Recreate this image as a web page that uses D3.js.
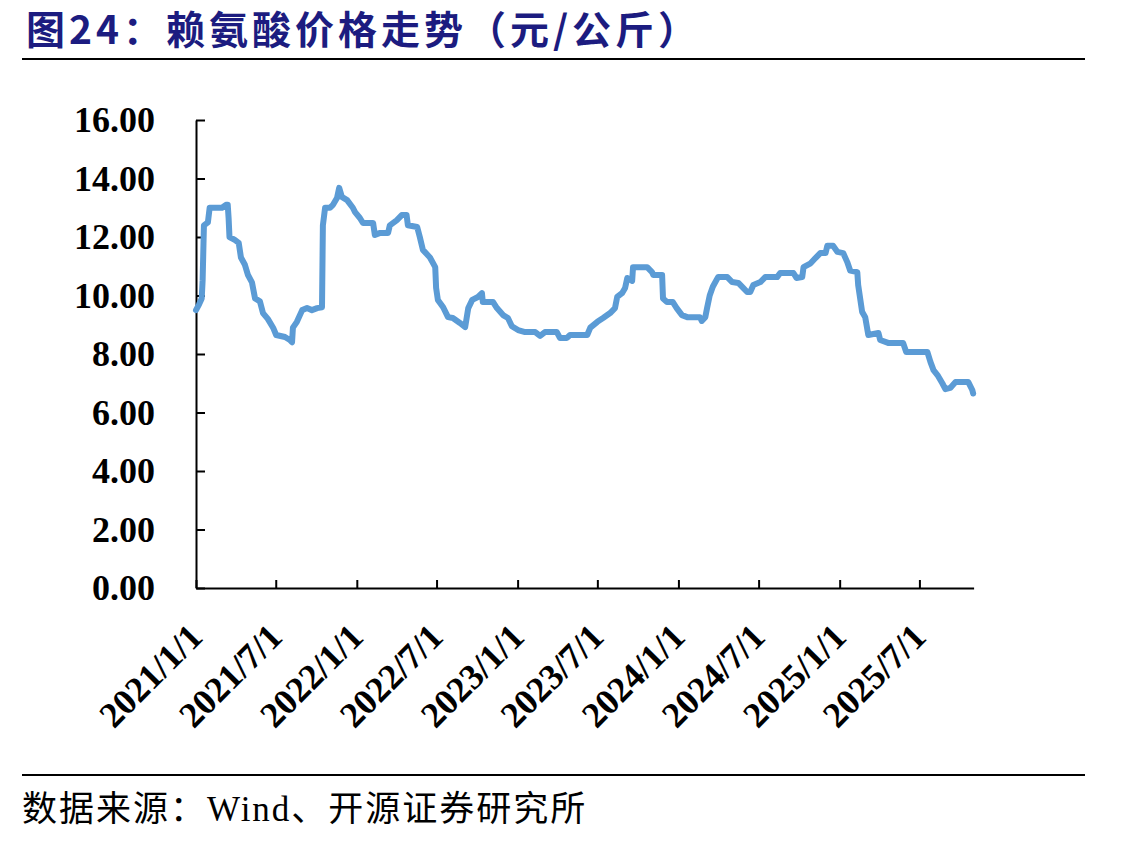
<!DOCTYPE html>
<html>
<head>
<meta charset="utf-8">
<script src="https://cdn.jsdelivr.net/npm/d3@7"></script>
<style>
  body { margin: 0; background: #fff; }
</style>
</head>
<body>
<div id="chart"></div>
<script>
// 赖氨酸价格（元/公斤），按图中读出的转折点
const dates = [
  "2021-01-01","2021-01-08","2021-01-14","2021-01-16","2021-01-19","2021-01-28","2021-02-01","2021-03-01",
  "2021-03-10","2021-03-14","2021-03-16","2021-03-18","2021-03-30","2021-04-08","2021-04-13","2021-04-22",
  "2021-04-29","2021-05-08","2021-05-15","2021-05-26","2021-06-02","2021-06-13","2021-06-25","2021-07-02",
  "2021-07-22","2021-08-02","2021-08-07","2021-08-09","2021-08-18","2021-08-30","2021-09-10","2021-09-21",
  "2021-10-03","2021-10-14","2021-10-16","2021-10-21","2021-11-01","2021-11-08","2021-11-17","2021-11-22",
  "2021-11-28","2021-12-10","2021-12-23","2021-12-28","2022-01-08","2022-01-15","2022-02-07","2022-02-11",
  "2022-02-23","2022-03-13","2022-03-17","2022-04-02","2022-04-13","2022-04-24","2022-04-27","2022-05-18",
  "2022-05-24","2022-05-31","2022-06-16","2022-06-28","2022-06-30","2022-07-04","2022-07-16","2022-07-27",
  "2022-08-07","2022-08-23","2022-09-04","2022-09-11","2022-09-20","2022-10-03","2022-10-12","2022-10-14",
  "2022-11-06","2022-11-15","2022-11-29","2022-12-10","2022-12-19","2023-01-02","2023-01-18","2023-02-10",
  "2023-02-21","2023-03-04","2023-03-31","2023-04-07","2023-04-23","2023-04-30","2023-06-08","2023-06-15",
  "2023-07-01","2023-07-14","2023-07-30","2023-08-10","2023-08-15","2023-08-26","2023-09-02","2023-09-07",
  "2023-09-18","2023-09-20","2023-10-22","2023-11-02","2023-11-05","2023-11-25","2023-11-27","2023-12-06",
  "2023-12-19","2023-12-28","2024-01-09","2024-01-21","2024-02-19","2024-02-23","2024-03-02","2024-03-06",
  "2024-03-12","2024-03-19","2024-03-31","2024-04-21","2024-05-02","2024-05-16","2024-05-27","2024-06-05",
  "2024-06-12","2024-06-19","2024-07-05","2024-07-16","2024-08-12","2024-08-19","2024-09-18","2024-09-25",
  "2024-10-08","2024-10-11","2024-10-27","2024-11-07","2024-11-18","2024-11-30","2024-12-04","2024-12-17",
  "2024-12-27","2025-01-09","2025-01-18","2025-01-25","2025-02-10","2025-02-12","2025-02-21","2025-02-28",
  "2025-03-07","2025-03-30","2025-04-03","2025-04-21","2025-05-25","2025-06-01","2025-07-19","2025-07-26",
  "2025-08-02","2025-08-11","2025-08-22","2025-08-29","2025-09-09","2025-09-21","2025-10-20","2025-10-29",
  "2025-10-31"
];
const prices = [
  9.5, 9.7, 9.9, 10.5, 12.4, 12.5, 13.0, 13.0,
  13.1, 13.1, 12.65, 12.0, 11.9, 11.8, 11.3, 11.05,
  10.7, 10.45, 9.9, 9.8, 9.4, 9.2, 8.9, 8.65,
  8.58, 8.48, 8.4, 8.9, 9.1, 9.5, 9.57, 9.5,
  9.57, 9.6, 12.4, 13.0, 13.0, 13.1, 13.33, 13.68,
  13.37, 13.26, 13.0, 12.85, 12.65, 12.48, 12.48, 12.07,
  12.14, 12.14, 12.4, 12.58, 12.75, 12.75, 12.4, 12.34,
  12.0, 11.56, 11.3, 10.97, 10.26, 9.85, 9.6, 9.26,
  9.23, 9.06, 8.92, 9.57, 9.85, 9.95, 10.08, 9.78,
  9.78, 9.57, 9.33, 9.23, 8.95, 8.82, 8.75, 8.75,
  8.62, 8.75, 8.75, 8.55, 8.55, 8.65, 8.65, 8.9,
  9.1, 9.23, 9.4, 9.57, 9.95, 10.08, 10.26, 10.6,
  10.5, 10.97, 10.97, 10.8, 10.7, 10.7, 9.9, 9.78,
  9.78, 9.57, 9.33, 9.26, 9.26, 9.13, 9.26, 9.57,
  10.0, 10.3, 10.63, 10.63, 10.46, 10.43, 10.26, 10.12,
  10.12, 10.36, 10.46, 10.63, 10.63, 10.77, 10.77, 10.6,
  10.63, 10.97, 11.1, 11.28, 11.45, 11.45, 11.7, 11.7,
  11.49, 11.45, 11.15, 10.85, 10.8, 10.36, 9.44, 9.26,
  8.65, 8.72, 8.48, 8.38, 8.38, 8.07, 8.07, 7.73,
  7.45, 7.28, 7.0, 6.8, 6.84, 7.04, 7.04, 6.77,
  6.65
];
const yTicks = [0, 2, 4, 6, 8, 10, 12, 14, 16];
const xTickLabels = ["2021/1/1","2021/7/1","2022/1/1","2022/7/1","2023/1/1","2023/7/1","2024/1/1","2024/7/1","2025/1/1","2025/7/1"];

const parse = d3.timeParse("%Y-%m-%d");
const data = dates.map((d, i) => ({ date: parse(d), value: prices[i] }));
const tickDates = xTickLabels.map(s => d3.timeParse("%Y/%m/%d")(s));

const svg = d3.select("#chart").append("svg")
    .attr("width", 1137)
    .attr("height", 844)
    .style("background", "#fff");

const plotLeft = 196, plotRight = 973.6, plotTop = 120, plotBottom = 588;

const x = d3.scaleTime()
    .domain([parse("2021-01-01"), parse("2025-11-01")])
    .range([plotLeft, plotRight]);

const y = d3.scaleLinear()
    .domain([0, 16])
    .range([plotBottom, plotTop]);

// 标题
svg.append("text")
    .attr("x", 26)
    .attr("y", 44)
    .style("font-family", "'Noto Sans CJK SC', sans-serif")
    .style("font-size", "39px")
    .style("font-weight", "bold")
    .style("letter-spacing", "4px")
    .style("fill", "#1c1c80")
    .text("图24：赖氨酸价格走势（元/公斤）");

svg.append("line")
    .attr("x1", 22).attr("x2", 1085)
    .attr("y1", 59).attr("y2", 59)
    .attr("stroke", "#000").attr("stroke-width", 2);

// y轴
const yAxis = svg.append("g")
    .attr("transform", `translate(${plotLeft},0)`)
    .call(d3.axisLeft(y).tickValues(yTicks).tickFormat(d3.format(".2f"))
        .tickSize(-9).tickSizeOuter(0).tickPadding(41));
yAxis.select(".domain").attr("stroke-width", 2);
yAxis.selectAll(".tick line").attr("stroke-width", 2);
yAxis.selectAll("text")
    .style("font-family", "'Liberation Serif', 'Times New Roman', serif")
    .style("font-size", "36px")
    .style("font-weight", "bold")
    .style("fill", "#000");

// x轴
const xAxis = svg.append("g")
    .attr("transform", `translate(0,${plotBottom})`)
    .call(d3.axisBottom(x).tickValues(tickDates).tickFormat((d, i) => xTickLabels[i])
        .tickSize(-8).tickSizeOuter(0));
xAxis.select(".domain").attr("stroke-width", 2);
xAxis.selectAll(".tick line").attr("stroke-width", 2);
xAxis.selectAll("text")
    .attr("y", null).attr("dy", null)
    .attr("text-anchor", "end")
    .attr("transform", "translate(8,51) rotate(-45)")
    .style("font-family", "'Liberation Serif', 'Times New Roman', serif")
    .style("font-size", "36px")
    .style("font-weight", "bold")
    .style("fill", "#000");

// 价格曲线
const line = d3.line()
    .x(d => x(d.date))
    .y(d => y(d.value));

svg.append("path")
    .datum(data)
    .attr("fill", "none")
    .attr("stroke", "#5b9bd5")
    .attr("stroke-width", 6)
    .attr("stroke-linejoin", "round")
    .attr("stroke-linecap", "round")
    .attr("d", line);

// 来源
svg.append("line")
    .attr("x1", 22).attr("x2", 1085)
    .attr("y1", 775).attr("y2", 775)
    .attr("stroke", "#000").attr("stroke-width", 2);

svg.append("text")
    .attr("x", 22)
    .attr("y", 821)
    .style("font-family", "'Liberation Serif', 'Noto Sans CJK SC', serif")
    .style("font-size", "35px")
    .style("letter-spacing", "2px")
    .style("fill", "#000")
    .text("数据来源：Wind、开源证券研究所");
</script>
</body>
</html>
